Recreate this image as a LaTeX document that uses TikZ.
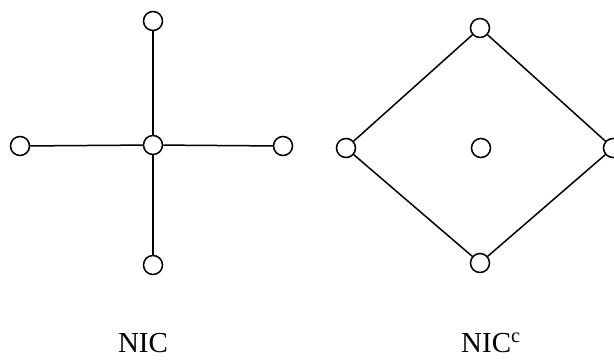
\documentclass[tikz,border=0pt]{standalone}
\usepackage{fontspec}
\setmainfont{Liberation Serif}
\begin{document}
\begin{tikzpicture}[x=1pt,y=-1pt,
  vertex/.style={circle,draw,line width=1.5pt,minimum size=19pt,inner sep=0pt},
  link/.style={line width=1.5pt},
  caption/.style={font=\fontsize{29}{32}\selectfont,inner sep=0pt}]
\useasboundingbox (0,0) rectangle (614,360);
% star graph
\node[vertex] (sc) at (153,145) {};
\node[vertex] (st) at (153,21) {};
\node[vertex] (sb) at (153,265) {};
\node[vertex] (sl) at (20,146) {};
\node[vertex] (sr) at (283,146) {};
\draw[link] (sc) -- (st);
\draw[link] (sc) -- (sb);
\draw[link] (sc) -- (sl);
\draw[link] (sc) -- (sr);
% complement: four-cycle and an isolated centre
\node[vertex] (dt) at (480,28) {};
\node[vertex] (dl) at (346,148) {};
\node[vertex] (dr) at (613,148) {};
\node[vertex] (db) at (480,263) {};
\node[vertex] (dc) at (481,148) {};
\draw[link] (dt) -- (dl) -- (db) -- (dr) -- (dt);
% captions
\node[caption,anchor=base] (l1) at (143,352) {NIC};
\node[caption,anchor=base west] (l2) at (461,352) {NIC\textsuperscript{c}};
\end{tikzpicture}
\end{document}
